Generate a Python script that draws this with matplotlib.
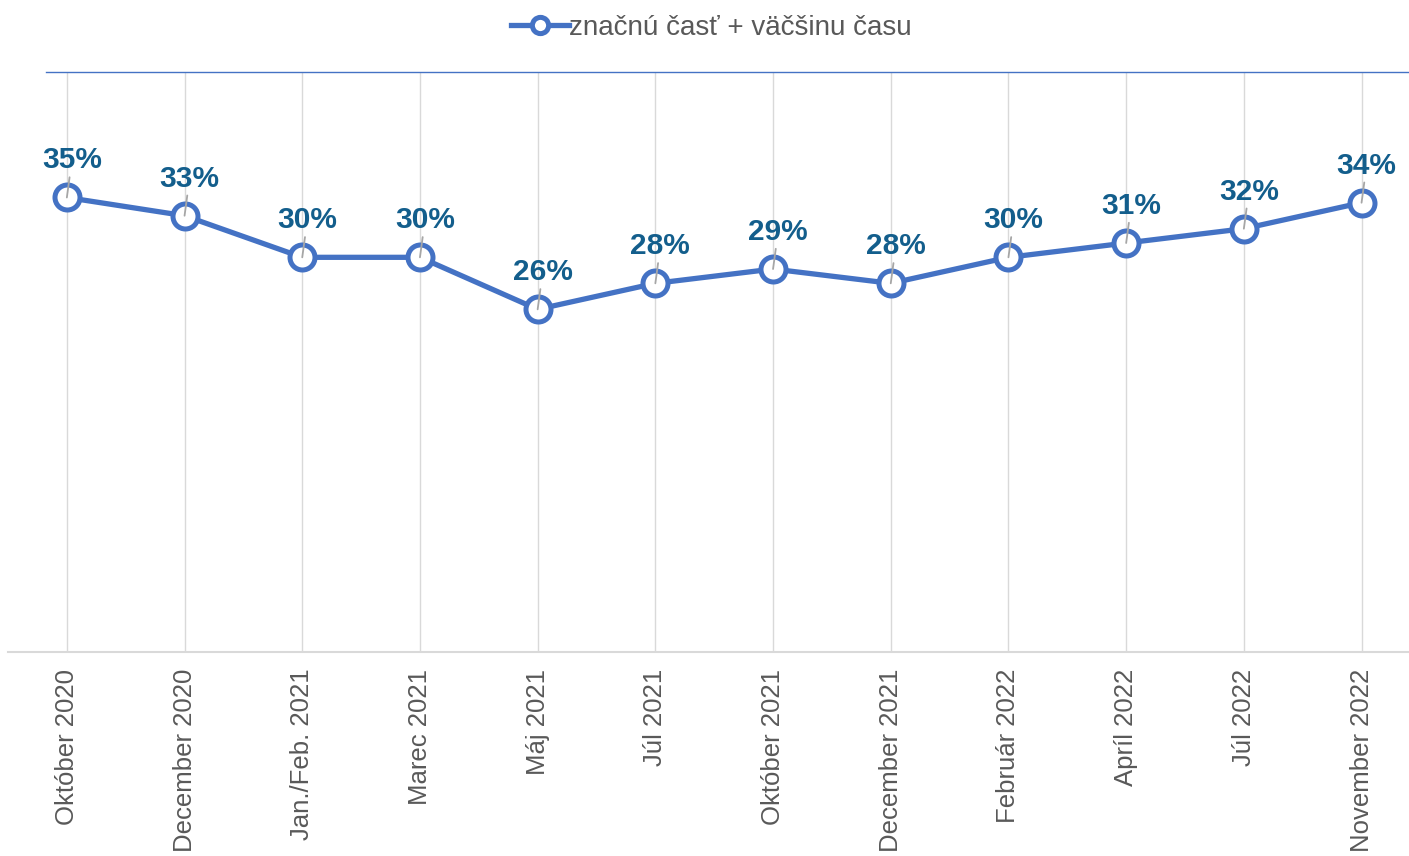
import matplotlib
matplotlib.use('Agg')
import matplotlib.pyplot as plt

plt.rcParams['font.family'] = ['Liberation Sans', 'DejaVu Sans']

MONTHS = ['Október 2020', 'December 2020', 'Jan./Feb. 2021', 'Marec 2021',
          'Máj 2021', 'Júl 2021', 'Október 2021', 'December 2021',
          'Február 2022', 'Apríl 2022', 'Júl 2022', 'November 2022']
SHARE = [0.348, 0.334, 0.302, 0.302, 0.262, 0.282,
         0.293, 0.282, 0.302, 0.313, 0.324, 0.344]
SERIES_NAME = 'značnú časť + väčšinu času'

LINE_BLUE = '#4472c4'
LABEL_BLUE = '#135e8c'
GREY_TEXT = '#595959'
GRID = '#d9d9d9'


def main():
    W, H = 1409, 856
    fig = plt.figure(figsize=(W / 100, H / 100), dpi=100)
    ax = fig.add_axes([8 / W, (H - 652) / H, 1 - 8 / W, (652 - 72) / H])

    x = list(range(len(MONTHS)))
    line, = ax.plot(x, SHARE, color=LINE_BLUE, lw=3.8, marker='o',
                    markersize=18, markerfacecolor='white',
                    markeredgecolor=LINE_BLUE, markeredgewidth=3.6,
                    label=SERIES_NAME, zorder=3, clip_on=False)

    # data labels with little grey leader lines
    for xi, v in zip(x, SHARE):
        ax.annotate('{:.0f}%'.format(v * 100), xy=(xi, v),
                    xytext=(5, 37), textcoords='offset pixels',
                    ha='center', va='center', fontsize=21.5, fontweight='bold',
                    color=LABEL_BLUE, zorder=5,
                    arrowprops=dict(arrowstyle='-', color='#a6a6a6', lw=1.3,
                                    shrinkA=0, shrinkB=0))

    ax.set_xlim(-0.5, -0.5 + 1401 / 117.7)
    ax.set_ylim(-0.0015, 0.4445)
    ax.set_yticks([])
    ax.set_xticks(x)
    ax.set_xticklabels(MONTHS, rotation=90, fontsize=18.5, color=GREY_TEXT)
    ax.tick_params(axis='x', length=0, pad=12)
    ax.grid(axis='x', color=GRID, lw=1)
    ax.set_axisbelow(True)
    for side in ['left', 'right', 'top']:
        ax.spines[side].set_visible(False)
    ax.spines['bottom'].set_color(GRID)
    ax.spines['bottom'].set_linewidth(1.5)
    ax.axhline(0.4445, xmin=38 / 1401, color=LINE_BLUE, lw=1, clip_on=False)

    fig.legend(handles=[line], loc='center', bbox_to_anchor=(0.505, 0.9675),
               frameon=False, fontsize=20, handlelength=2.1, handletextpad=0.0,
               markerscale=0.65, labelcolor=GREY_TEXT)

    fig.savefig('out.png', dpi=100)


if __name__ == "__main__":
    main()
